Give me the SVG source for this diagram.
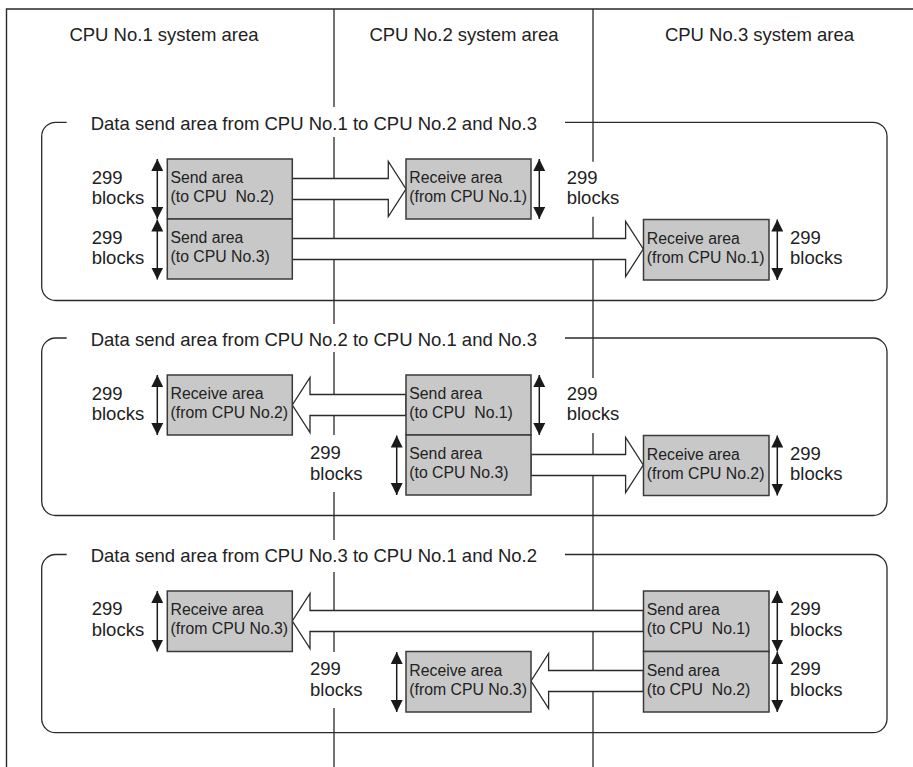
<svg xmlns="http://www.w3.org/2000/svg" width="913" height="767" viewBox="0 0 913 767">
<defs>
<style>
.frame{fill:none;stroke:#2a2a2a;stroke-width:1.4}
.div{fill:none;stroke:#2a2a2a;stroke-width:1.3}
.grp{fill:none;stroke:#2a2a2a;stroke-width:1.3}
.box{fill:#c8c8c8;stroke:#3a3a3a;stroke-width:1.5}
.blk{fill:#ffffff;stroke:#2a2a2a;stroke-width:1.3;stroke-linejoin:miter}
.dim{fill:none;stroke:#1a1a1a;stroke-width:1.5;marker-start:url(#ah);marker-end:url(#ah)}
.big{font-family:"Liberation Sans",Arial,Helvetica,sans-serif;font-size:18.5px;fill:#222}
.sm{font-family:"Liberation Sans",Arial,Helvetica,sans-serif;font-size:15.8px;fill:#222}
.hd{text-anchor:middle}
</style>
<marker id="ah" viewBox="0 0 12 12" refX="12" refY="6" markerWidth="12" markerHeight="12" markerUnits="userSpaceOnUse" orient="auto-start-reverse">
<path d="M0,0 L12,6 L0,12 z" fill="#1a1a1a"/>
</marker>
</defs>
<rect x="0" y="0" width="913" height="767" fill="#ffffff"/>

<g id="frame">
<path class="frame" d="M6.5,767 V9 H913"/>
<path class="div" d="M334,9 V107 M334,137 V324 M334,352 V435 M334,492 V540 M334,572 V652 M334,708 V767"/>
<path class="div" d="M593,9 V161.7 M593,216.7 V378 M593,433 V767"/>
<text class="big hd" x="164" y="40.7">CPU No.1 system area</text>
<text class="big hd" x="464" y="40.7">CPU No.2 system area</text>
<text class="big hd" x="759.5" y="40.7">CPU No.3 system area</text>
</g>

<g id="group1">
<path class="grp" d="M565,122.3 H873 A14,14 0 0 1 887,136.3 V286.5 A14,14 0 0 1 873,300.5 H55.7 A14,14 0 0 1 41.7,286.5 V136.3 A14,14 0 0 1 55.7,122.3 H66.7"/>
<text class="big" x="90.7" y="130">Data send area from CPU No.1 to CPU No.2 and No.3</text>
</g>
<g id="group2">
<path class="grp" d="M565,338 H873 A14,14 0 0 1 887,352 V501.5 A14,14 0 0 1 873,515.5 H55.7 A14,14 0 0 1 41.7,501.5 V352 A14,14 0 0 1 55.7,338 H66.7"/>
<text class="big" x="90.7" y="345.7">Data send area from CPU No.2 to CPU No.1 and No.3</text>
</g>
<g id="group3">
<path class="grp" d="M565,554.5 H873 A14,14 0 0 1 887,568.5 V718.7 A14,14 0 0 1 873,732.7 H55.7 A14,14 0 0 1 41.7,718.7 V568.5 A14,14 0 0 1 55.7,554.5 H66.7"/>
<text class="big" x="90.7" y="562.2">Data send area from CPU No.3 to CPU No.1 and No.2</text>
</g>

<g id="connectors">
<polygon class="blk" points="292.3,178.5 388.3,178.5 388.3,161.5 406,189 388.3,216.5 388.3,199.5 292.3,199.5"/>
<polygon class="blk" points="292.3,238.5 625.6,238.5 625.6,221.5 643.3,249 625.6,276.5 625.6,259.5 292.3,259.5"/>
<polygon class="blk" points="406,394.5 310,394.5 310,377.5 292.3,405 310,432.5 310,415.5 406,415.5"/>
<polygon class="blk" points="531,454.5 625.6,454.5 625.6,437.5 643.3,465 625.6,492.5 625.6,475.5 531,475.5"/>
<polygon class="blk" points="643.3,610.5 310,610.5 310,593.5 292.3,621 310,648.5 310,631.5 643.3,631.5"/>
<polygon class="blk" points="643.3,670.5 548.6,670.5 548.6,653.5 531,681 548.6,708.5 548.6,691.5 643.3,691.5"/>
</g>

<g id="dimensions">
<line class="dim" x1="157.3" y1="159" x2="157.3" y2="219"/>
<line class="dim" x1="157.3" y1="219.5" x2="157.3" y2="279.5"/>
<line class="dim" x1="539.3" y1="159" x2="539.3" y2="219"/>
<line class="dim" x1="777.3" y1="219.5" x2="777.3" y2="280"/>
<line class="dim" x1="157.3" y1="375" x2="157.3" y2="435"/>
<line class="dim" x1="539.3" y1="375" x2="539.3" y2="435"/>
<line class="dim" x1="396.7" y1="435.5" x2="396.7" y2="495"/>
<line class="dim" x1="777.3" y1="435.5" x2="777.3" y2="495.5"/>
<line class="dim" x1="157.3" y1="591" x2="157.3" y2="651.5"/>
<line class="dim" x1="777.3" y1="591" x2="777.3" y2="651.5"/>
<line class="dim" x1="777.3" y1="652" x2="777.3" y2="712"/>
<line class="dim" x1="396.7" y1="652" x2="396.7" y2="712"/>
</g>

<g id="labels">
<text class="big" x="91.7" y="184">299</text><text class="big" x="91.7" y="204.3">blocks</text>
<text class="big" x="91.7" y="244">299</text><text class="big" x="91.7" y="264.3">blocks</text>
<text class="big" x="566.7" y="184">299</text><text class="big" x="566.7" y="204.3">blocks</text>
<text class="big" x="790" y="244">299</text><text class="big" x="790" y="264.3">blocks</text>
<text class="big" x="91.7" y="400">299</text><text class="big" x="91.7" y="420.3">blocks</text>
<text class="big" x="566.7" y="400">299</text><text class="big" x="566.7" y="420.3">blocks</text>
<text class="big" x="310" y="459">299</text><text class="big" x="310" y="480">blocks</text>
<text class="big" x="790" y="460">299</text><text class="big" x="790" y="480.3">blocks</text>
<text class="big" x="91.7" y="615">299</text><text class="big" x="91.7" y="636.3">blocks</text>
<text class="big" x="790" y="615">299</text><text class="big" x="790" y="636.3">blocks</text>
<text class="big" x="790" y="675">299</text><text class="big" x="790" y="696.3">blocks</text>
<text class="big" x="310" y="675">299</text><text class="big" x="310" y="696.3">blocks</text>
</g>

<g id="send-1-to-2">
<rect class="box" x="167.3" y="159" width="125" height="60"/>
<text class="sm" x="170.5" y="183" xml:space="preserve">Send area</text>
<text class="sm" x="170.5" y="202" xml:space="preserve">(to CPU  No.2)</text>
</g>
<g id="send-1-to-3">
<rect class="box" x="167.3" y="219" width="125" height="60"/>
<text class="sm" x="170.5" y="243" xml:space="preserve">Send area</text>
<text class="sm" x="170.5" y="262" xml:space="preserve">(to CPU No.3)</text>
</g>
<g id="recv-2-from-1">
<rect class="box" x="406" y="159" width="125" height="60"/>
<text class="sm" x="409.3" y="183">Receive area</text>
<text class="sm" x="409.3" y="202">(from CPU No.1)</text>
</g>
<g id="recv-3-from-1">
<rect class="box" x="643.5" y="219.5" width="125.5" height="60.5"/>
<text class="sm" x="646.8" y="243.5">Receive area</text>
<text class="sm" x="646.8" y="262.5">(from CPU No.1)</text>
</g>

<g id="recv-1-from-2">
<rect class="box" x="167.3" y="375" width="125" height="60"/>
<text class="sm" x="170.5" y="399">Receive area</text>
<text class="sm" x="170.5" y="418">(from CPU No.2)</text>
</g>
<g id="send-2-to-1">
<rect class="box" x="406" y="375" width="125" height="60"/>
<text class="sm" x="409.3" y="399" xml:space="preserve">Send area</text>
<text class="sm" x="409.3" y="418" xml:space="preserve">(to CPU  No.1)</text>
</g>
<g id="send-2-to-3">
<rect class="box" x="406" y="435" width="125" height="60"/>
<text class="sm" x="409.3" y="459" xml:space="preserve">Send area</text>
<text class="sm" x="409.3" y="478" xml:space="preserve">(to CPU No.3)</text>
</g>
<g id="recv-3-from-2">
<rect class="box" x="643.5" y="435.5" width="125.5" height="60"/>
<text class="sm" x="646.8" y="459.5">Receive area</text>
<text class="sm" x="646.8" y="478.5">(from CPU No.2)</text>
</g>

<g id="recv-1-from-3">
<rect class="box" x="167.3" y="591" width="125" height="60.5"/>
<text class="sm" x="170.5" y="615">Receive area</text>
<text class="sm" x="170.5" y="634">(from CPU No.3)</text>
</g>
<g id="send-3-to-1">
<rect class="box" x="643.5" y="591" width="125.5" height="60.5"/>
<text class="sm" x="646.8" y="615" xml:space="preserve">Send area</text>
<text class="sm" x="646.8" y="634" xml:space="preserve">(to CPU  No.1)</text>
</g>
<g id="send-3-to-2">
<rect class="box" x="643.5" y="651.5" width="125.5" height="60.5"/>
<text class="sm" x="646.8" y="675.5" xml:space="preserve">Send area</text>
<text class="sm" x="646.8" y="694.5" xml:space="preserve">(to CPU  No.2)</text>
</g>
<g id="recv-2-from-3">
<rect class="box" x="406" y="651.5" width="125" height="60.5"/>
<text class="sm" x="409.3" y="675.5">Receive area</text>
<text class="sm" x="409.3" y="694.5">(from CPU No.3)</text>
</g>
</svg>
